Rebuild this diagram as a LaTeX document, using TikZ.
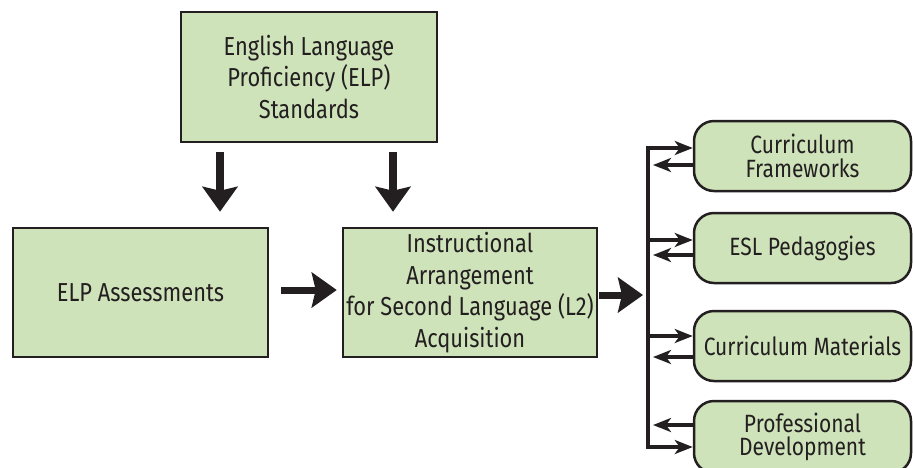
\documentclass[tikz,border=0pt]{standalone}
\usepackage{fontspec}
\setmainfont{Fira Sans}[FakeStretch=0.84]
\usetikzlibrary{arrows.meta,calc}
\definecolor{boxgreen}{RGB}{207,227,186}
\definecolor{ink}{RGB}{35,31,32}
\begin{document}
\begin{tikzpicture}[x=1pt,y=-1pt,
  sqbox/.style={draw=ink,fill=boxgreen,line width=2.5pt,inner sep=0pt,align=center,text=ink,
    font=\fontsize{26}{31.5}\selectfont},
  rbox/.style={draw=ink,fill=boxgreen,line width=2.5pt,inner sep=0pt,align=center,text=ink,
    rounded corners=20pt,minimum width=217pt,minimum height=70pt,
    font=\fontsize{25}{23.5}\selectfont},
  bigarrow/.style={draw=ink,line width=8pt,-{Stealth[length=25pt,width=35pt,inset=4pt]}},
  sarrow/.style={draw=ink,line width=4.5pt,-{Stealth[length=18pt,width=14pt,inset=5pt]}},
  sboth/.style={draw=ink,line width=4.5pt,line join=miter,{Stealth[length=18pt,width=14pt,inset=5pt]}-{Stealth[length=18pt,width=14pt,inset=5pt]}}
]
\useasboundingbox (0,0) rectangle (913,467);

\node[sqbox,minimum width=256pt,minimum height=130pt] (top) at (309,77)
  {English Language\\Proficiency (ELP)\\Standards};
\node[sqbox,minimum width=255pt,minimum height=129pt] (elp) at (140.5,292.5)
  {ELP Assessments};
\node[sqbox,minimum width=254pt,minimum height=129pt] (instr) at (470,292.5)
  {Instructional\\Arrangement\\for Second Language (L2)\\Acquisition};

\node[rbox] (c1) at (802.5,156) {Curriculum\\Frameworks};
\node[rbox] (c2) at (802.5,248) {ESL Pedagogies};
\node[rbox] (c3) at (802.5,346) {Curriculum Materials};
\node[rbox,minimum height=72pt] (c4) at (802.5,437) {Professional\\Development};

% down arrows
\coordinate (a1) at (220,0);
\coordinate (a2) at (393,0);
\draw[bigarrow,shorten <=9pt,shorten >=15pt] (a1 |- top.south) -- (a1 |- elp.north);
\draw[bigarrow,shorten <=9pt,shorten >=15pt] (a2 |- top.south) -- (a2 |- instr.north);

% horizontal arrows
\coordinate (h1) at (0,290);
\coordinate (h2) at (0,295);
\draw[bigarrow,line width=7pt,shorten <=12pt,shorten >=5pt] (h1 -| elp.east) -- (h1 -| instr.west);
\coordinate (bt) at (648,148);
\coordinate (bb) at (648,447);
\draw[bigarrow,line width=7pt,shorten <=1pt,shorten >=5pt] (h2 -| instr.east) -- (h2 -| bt);

% bus with corner arrows
\draw[sboth] (bt -| c1.west) -- (bt) -- (bb) -- (bb -| c4.west);

% arrows to/from boxes
\coordinate (l1) at ($(c1.west)+(0,9)$);
\coordinate (r2) at ($(c2.west)+(0,-8)$);
\coordinate (l2) at ($(c2.west)+(0,7)$);
\coordinate (r3) at ($(c3.west)+(0,-10)$);
\coordinate (l3) at ($(c3.west)+(0,11)$);
\coordinate (l4) at ($(c4.west)+(0,-12)$);

\draw[sarrow] (l1) -- ($(l1 -| bt)+(5,0)$);
\draw[sarrow] (r2 -| bt) -- (r2);
\draw[sarrow] (l2) -- ($(l2 -| bt)+(5,0)$);
\draw[sarrow] (r3 -| bt) -- (r3);
\draw[sarrow] (l3) -- ($(l3 -| bt)+(5,0)$);
\draw[sarrow] (l4) -- ($(l4 -| bt)+(5,0)$);
\end{tikzpicture}
\end{document}
